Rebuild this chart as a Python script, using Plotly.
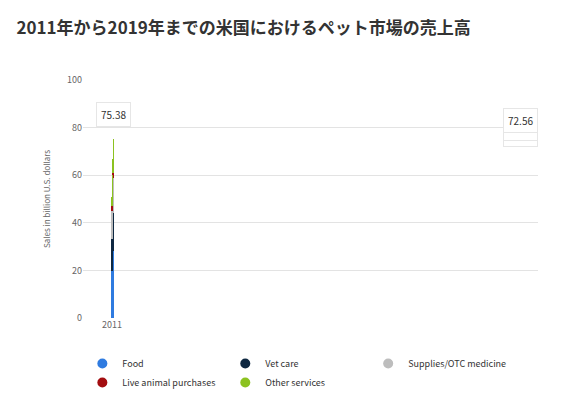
import plotly.graph_objects as go

years = ["2011", "2012", "2013", "2014", "2015", "2016", "2017", "2018", "2019*"]
food = [19.85, 20.64, 21.57, 22.26, 23.05, 28.23, 29.07, 30.32, 31.68]
vet = [13.41, 13.67, 14.37, 15.04, 15.42, 15.95, 17.07, 18.11, 18.98]
supplies = [11.77, 12.65, 13.14, 13.75, 14.28, 14.71, 15.11, 16.01, 16.44]
live = [2.15, 2.21, 2.23, 2.15, 2.12, 2.11, 2.10, 2.01, 2.10]
other = [3.79, 4.16, 4.54, 4.84, 5.41, 5.75, 6.16, 6.11, 6.18]
totals = ["", "", "", "", "", "66.75", "69.51", "72.56", "75.38"]

series = [
    ("Food", food, "#2f7be0"),
    ("Vet care", vet, "#0e2841"),
    ("Supplies/OTC medicine", supplies, "#bdbdbd"),
    ("Live animal purchases", live, "#a30d10"),
    ("Other services", other, "#8cc220"),
]

fig = go.Figure()
for name, vals, col in series:
    fig.add_trace(go.Bar(x=years, y=vals, name=name, marker_color=col,
                         marker_line_width=0, showlegend=False))
    # dummy trace so the legend shows round markers
    fig.add_trace(go.Scatter(x=[years[0]], y=[None], mode="markers", name=name,
                             marker=dict(symbol="circle", size=10, color=col)))

tot = [sum(v) for v in zip(food, vet, supplies, live, other)]
for x, t, lab in zip(years, tot, totals):
    if lab:
        fig.add_annotation(x=x, y=t + 5, yanchor="bottom", text=lab, showarrow=False,
                           bgcolor="white", bordercolor="#e6e6e6", borderwidth=1, borderpad=4,
                           font=dict(size=10, color="#333333"))

fig.update_layout(
    barmode="stack", bargap=0.22, width=567, height=401,
    plot_bgcolor="white", paper_bgcolor="white",
    font=dict(family="Noto Sans CJK JP, Noto Sans", color="#555555"),
    title=dict(text="<b>2011年から2019年までの米国におけるペット市場の売上高</b>",
               x=0.015, y=0.965, font=dict(size=17, color="#333333")),
    margin=dict(l=75, r=37, t=72, b=67),
    legend=dict(orientation="h", x=0.47, xanchor="center", y=-0.13, yanchor="top",
                traceorder="normal", font=dict(size=9, color="#333333"), itemwidth=30),
)
fig.update_xaxes(type="category", categoryarray=years, categoryorder="array",
                 tickfont=dict(size=9, color="#666666"), showline=False)
fig.update_yaxes(range=[0, 100], dtick=20, gridcolor="#e3e3e3", zeroline=False,
                 tickfont=dict(size=9, color="#666666"),
                 title=dict(text="Sales in billion U.S. dollars", font=dict(size=8, color="#666666")))

fig.write_html("out.html")
